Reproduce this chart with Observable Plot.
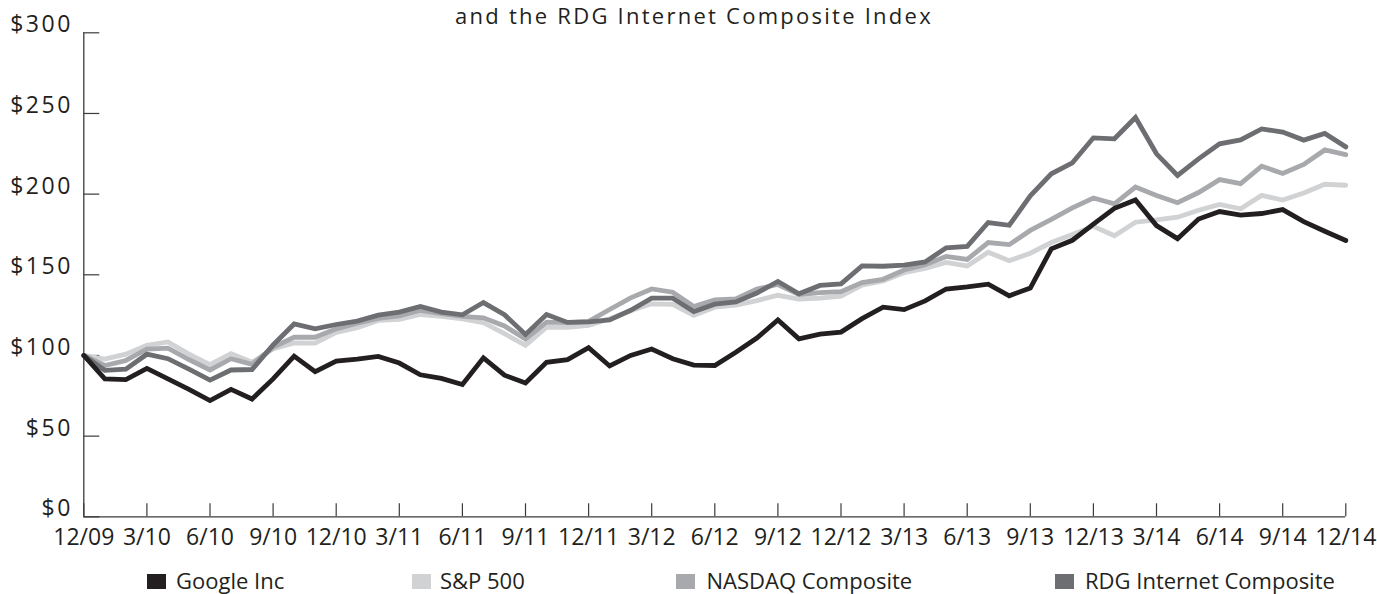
<!DOCTYPE html>
<html>
<head>
<meta charset="utf-8">
<script src="https://cdn.jsdelivr.net/npm/d3@7"></script>
<script src="https://cdn.jsdelivr.net/npm/@observablehq/plot@0.6"></script>
<style>
  html, body { margin: 0; padding: 0; background: #fff; }
  #wrap { position: relative; width: 1377px; height: 594px; overflow: hidden; font-family: "Open Sans", sans-serif; color: #231f20; }
  #title { position: absolute; left: 0; top: 0; width: 1388px; text-align: center; font-size: 22px; line-height: normal; letter-spacing: 2.25px; white-space: nowrap; }
  #legend { position: relative; height: 34px; }
  .sw { position: absolute; top: 13.5px; width: 19px; height: 15px; }
  .lt { position: absolute; top: 9px; font-size: 22px; line-height: 22px; white-space: nowrap; }
</style>
</head>
<body>
<div id="wrap">
  <div id="chart"></div>
  <div id="legend"></div>
  <div id="title"></div>
</div>
<script>
// ---- data ----
const titleText = "and the RDG Internet Composite Index";
const seriesNames = ["S&P 500", "NASDAQ Composite", "RDG Internet Composite", "Google Inc"];
const legendOrder = ["Google Inc", "S&P 500", "NASDAQ Composite", "RDG Internet Composite"];
const xTickLabels = ["12/09","3/10","6/10","9/10","12/10","3/11","6/11","9/11","12/11","3/12","6/12","9/12","12/12","3/13","6/13","9/13","12/13","3/14","6/14","9/14","12/14"];
const yTicks = [0, 50, 100, 150, 200, 250, 300];
const yTickLabels = ["$0", "$50", "$100", "$150", "$200", "$250", "$300"];

const google = [100,85.5,85,92,85.5,79,72,79,73,85.5,99.6,90,96.5,97.7,99.4,95.3,88,85.8,82,98.5,87.8,83,95.8,97.4,104.8,93.5,100,104,98,94,93.8,102,110.8,122,110.3,113.2,114.5,122.8,129.9,128.4,133.8,141.2,142.5,144.2,137,141.8,166.1,171.4,181.4,191.2,196.4,180.5,172.4,184.6,189.2,187,188,190.4,183,177,171.3];
const sp500 = [100,97.8,100.8,106.3,108.4,100.8,94.3,101.2,95.8,104,107.8,107.6,114.3,117.2,121.7,122.4,125.4,124.3,122.7,120.3,113.5,106.3,117.5,117.5,118.6,122.7,127.7,132,131.7,124.9,129.9,131.2,134,137.3,135,135.6,136.7,143.6,146.2,151.3,154,157.7,155.5,164,158.7,163.4,170,175,180.1,174.2,182.6,184,185.7,190,193.6,190.9,199.2,196.3,200.7,206.1,205.5];
const nasdaq = [100,93.8,96.9,104,104.5,97.5,91,98,94.5,105,111.3,111.3,116.5,120,123,124.5,128,125.9,124.2,123.3,118.3,110.2,120.7,120.4,121.1,128.5,135.7,141.2,139.2,130.4,134.5,135,141.2,144,137.8,139,139.5,145.2,147.2,153,156.3,161.4,159.5,170,168.7,177.5,184.3,191.5,197.6,194,204.4,199.2,194.7,201,209,206.5,217.3,212.8,218.4,227.4,224.5];
const rdg = [100,90.8,91.5,100.8,98,91.5,84.7,91,91.3,106.5,119.5,116.5,119.2,121.3,125,126.9,130.4,126.9,125.2,132.8,125.3,113,125.4,120.5,120.8,122,128,135.5,135.5,127.2,131.8,133.2,138.7,145.9,138.2,143.4,144.4,155.5,155.3,156,158,166.7,167.6,182.4,180.7,198.9,212.6,219.4,234.9,234.3,247.5,225,211.6,221.9,231.2,233.6,240.4,238.5,233.5,237.6,229.3];

// ---- styles ----
const seriesColors = ["#d1d2d4", "#a7a9ac", "#6d6e71", "#231f20"];
const legendX = [[146.7, 176], [412, 440], [676, 706.5], [1055, 1085]]; // swatch left, text left (px)

const valuesBySeries = {"S&P 500": sp500, "NASDAQ Composite": nasdaq, "RDG Internet Composite": rdg, "Google Inc": google};
const rows = seriesNames.flatMap(name => valuesBySeries[name].map((v, i) => ({series: name, month: i, value: v})));
const xTicks = xTickLabels.map((_, k) => k * 3);

const chart = Plot.plot({
  width: 1377,
  height: 560,
  marginLeft: 83.3,
  marginRight: 31.7,
  marginTop: 32.3,
  marginBottom: 43.7,
  style: {fontFamily: "Open Sans", color: "#231f20", background: "#fff", overflow: "visible"},
  x: {domain: [0, 60], label: null},
  y: {domain: [0, 300], label: null},
  color: {domain: seriesNames, range: seriesColors},
  marks: [
    Plot.axisY({ticks: yTicks, tickSize: 16, dx: 16, text: null, label: null, stroke: "#3b3b3b", strokeWidth: 1.2}),
    Plot.axisY({ticks: yTicks, tickSize: 0, tickPadding: 11, fontSize: 23, dy: -8, label: null,
      tickFormat: d => yTickLabels[yTicks.indexOf(d)], fill: "#231f20"}),
    Plot.axisX({ticks: xTicks, tickSize: 13, dy: -13, text: null, label: null, stroke: "#3b3b3b", strokeWidth: 1.2}),
    Plot.axisX({ticks: xTicks, tickSize: 0, tickPadding: 12, fontSize: 23, label: null,
      tickFormat: d => xTickLabels[d / 3], fill: "#231f20"}),
    Plot.ruleX([0], {stroke: "#3b3b3b", strokeWidth: 1.3}),
    Plot.ruleY([0], {stroke: "#3b3b3b", strokeWidth: 1.3}),
    Plot.line(rows, {x: "month", y: "value", z: "series", stroke: "series", strokeWidth: 4.8, strokeLinejoin: "miter", strokeMiterlimit: 6})
  ]
});
document.getElementById("chart").appendChild(chart);
chart.querySelectorAll('[aria-label="y-axis tick label"] text').forEach(t => t.style.letterSpacing = "2.5px");

document.getElementById("title").textContent = titleText;

const legend = document.getElementById("legend");
legendOrder.forEach((name, k) => {
  const sw = document.createElement("div");
  sw.className = "sw";
  sw.style.left = legendX[k][0] + "px";
  sw.style.background = seriesColors[seriesNames.indexOf(name)];
  legend.appendChild(sw);
  const lt = document.createElement("div");
  lt.className = "lt";
  lt.style.left = legendX[k][1] + "px";
  lt.textContent = name;
  legend.appendChild(lt);
});
</script>
</body>
</html>
